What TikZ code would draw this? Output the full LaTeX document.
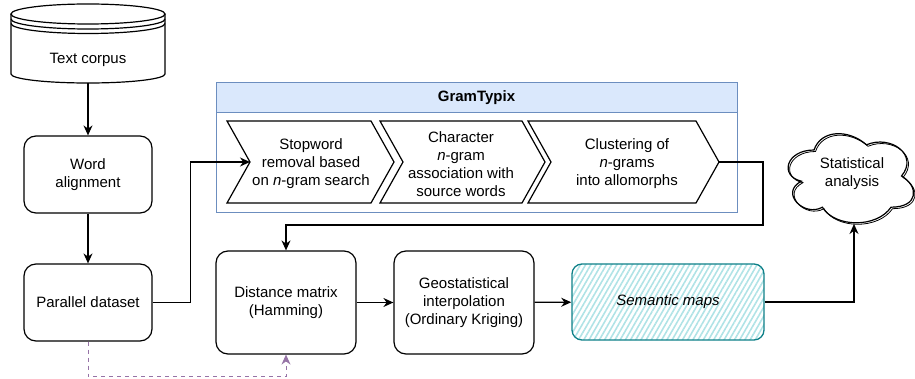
\documentclass[tikz,border=0pt]{standalone}
\usepackage{fontspec}
\setmainfont{Liberation Sans}
\usetikzlibrary{arrows.meta,patterns.meta}
\definecolor{hdrfill}{HTML}{DAE8FC}
\definecolor{hdrline}{HTML}{6C8EBF}
\definecolor{purp}{HTML}{9673A6}
\definecolor{tealline}{HTML}{0E8088}
\definecolor{tealfill}{HTML}{B0E3E6}
\newcommand\fsz{\fontsize{15}{18}\selectfont}
\begin{document}
\begin{tikzpicture}[x=1pt,y=-1pt,line width=1.2pt,line join=miter,font=\fsz,
  box/.style={draw,rounded corners=12pt,align=center,inner sep=0pt},
  lbl/.style={align=center,inner sep=0pt},
  arr/.style={-{Stealth[length=10pt,width=9pt]}},
  chev/.style={draw,line width=1.2pt}]
\useasboundingbox (0,0) rectangle (915,379);
% cylinder (Text corpus)
\draw[fill=white] (11,14) -- (11,74) .. controls (11,79) and (45.5,83) .. (88,83)
  .. controls (130.5,83) and (165,79) .. (165,74) -- (165,14);
\draw[fill=white] (88,14) ellipse[x radius=77,y radius=10];
\draw (11,19) .. controls (11,24.5) and (45.5,29) .. (88,29) .. controls (130.5,29) and (165,24.5) .. (165,19);
\draw (11,23.5) .. controls (11,29) and (45.5,33.5) .. (88,33.5) .. controls (130.5,33.5) and (165,29) .. (165,23.5);
\node[lbl] (tc) at (88,60) {Text corpus};
\coordinate (cylbot) at (88,83);
% left column boxes
\node[box,minimum width=128pt,minimum height=77pt] (wa) at (88,174.5) {Word\\alignment};
\node[box,minimum width=128pt,minimum height=77pt] (pd) at (88,302.5) {Parallel dataset};
% GramTypix container
\draw[hdrline,line width=1pt] (216,83) rectangle (737,213);
\draw[hdrline,fill=hdrfill,line width=1pt] (216,83) rectangle (737,113);
\node[lbl,font=\fsz\bfseries] (gt) at (476.5,98) {GramTypix};
% chevrons
\draw[chev] (227,121) -- (371,121) -- (394,162) -- (371,203) -- (227,203) -- (250,162) -- cycle;
\draw[chev] (380,121) -- (522,121) -- (545,162) -- (522,203) -- (380,203) -- (403,162) -- cycle;
\draw[chev] (528,121) -- (696,121) -- (719,162) -- (696,203) -- (528,203) -- (551,162) -- cycle;
\coordinate (c1in) at (250,162);
\coordinate (c3out) at (719,162);
\node[lbl] (c1) at (311,164) {Stopword\\removal based\\on \textit{n}-gram search};
\node[lbl] (c2) at (461,164) {Character\\\textit{n}-gram\\association with\\source words};
\node[lbl] (c3) at (627,164) {Clustering of\\\textit{n}-grams\\into allomorphs};
% bottom row
\node[box,minimum width=140pt,minimum height=103pt] (dist) at (286,302.5) {Distance matrix\\(Hamming)};
\node[box,minimum width=140pt,minimum height=103pt] (geo) at (464,302.5) {Geostatistical\\interpolation\\(Ordinary Kriging)};
\node[draw=tealline,line width=1.3pt,rounded corners=10pt,
  pattern={Lines[angle=60,distance=4.5pt,line width=1.6pt]},pattern color=tealfill,
  minimum width=192pt,minimum height=76pt,inner sep=0pt,font=\fsz\itshape] (sem) at (668,302) {Semantic maps};
% cloud
\draw[line width=0.8pt,shift={(1.5,1.5)}] (814,150) .. controls (786,150) and (779,176) .. (801.4,181.2)
  .. controls (779,192.6) and (804.2,217.6) .. (822.4,207.2)
  .. controls (835,228) and (877,228) .. (891,207.2)
  .. controls (919,207.2) and (919,186.4) .. (901.5,176)
  .. controls (919,155.2) and (891,134.4) .. (866.5,144.8)
  .. controls (849,129.2) and (821,129.2) .. (814,150) -- cycle;
\draw[fill=white,fill opacity=0] (814,150) .. controls (786,150) and (779,176) .. (801.4,181.2)
  .. controls (779,192.6) and (804.2,217.6) .. (822.4,207.2)
  .. controls (835,228) and (877,228) .. (891,207.2)
  .. controls (919,207.2) and (919,186.4) .. (901.5,176)
  .. controls (919,155.2) and (891,134.4) .. (866.5,144.8)
  .. controls (849,129.2) and (821,129.2) .. (814,150) -- cycle;
\node[lbl] (sa) at (852,174) {Statistical\\analysis};
\coordinate (cloudbot) at (854,224);
% connectors
\draw[arr] (cylbot) -- (wa.north);
\draw[arr] (wa.south) -- (pd.north);
\draw[arr] (pd.east) -- ++(38,0) |- (c1in);
\draw[arr] (c3out) -- ++(44,0) -- ++(0,63) -| (dist.north);
\draw[arr] (dist) -- (geo);
\draw[arr] (geo) -- (sem);
\draw[arr] (sem.east) -| (cloudbot);
\draw[arr,purp,line width=1pt,dash pattern=on 4pt off 4pt] (pd.south) -- ++(0,35) -| (dist.south);
\end{tikzpicture}
\end{document}
